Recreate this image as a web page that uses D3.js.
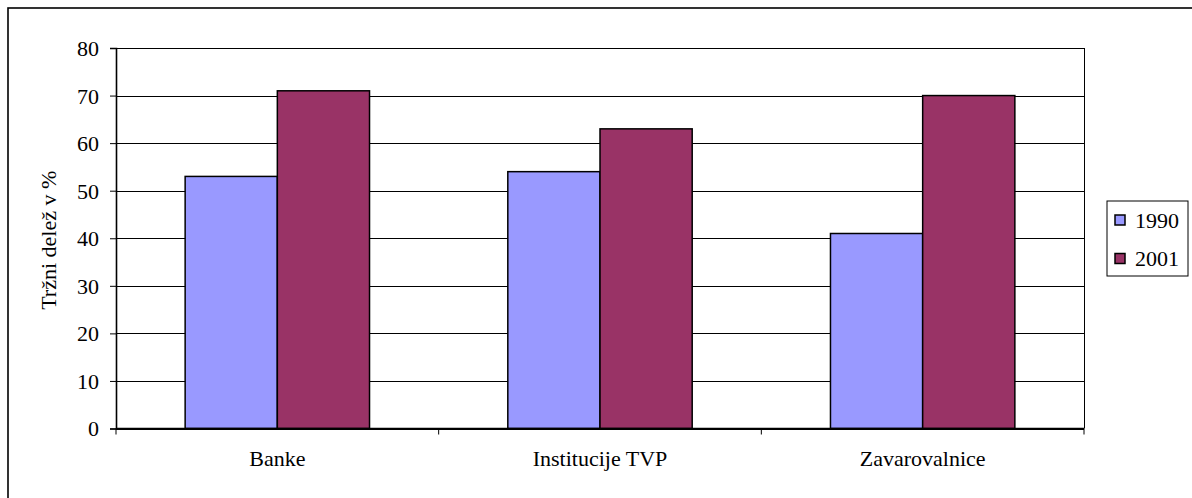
<!DOCTYPE html>
<html>
<head>
<meta charset="utf-8">
<script src="https://cdn.jsdelivr.net/npm/d3@7"></script>
<style>
html,body{margin:0;padding:0;background:#fff;}
svg{display:block;}
</style>
</head>
<body>
<svg id="chart" width="1192" height="498"></svg>
<script>
const categories = ["Banke", "Institucije TVP", "Zavarovalnice"];
const seriesNames = ["1990", "2001"];
const values1990 = [53, 54, 41];
const values2001 = [71, 63, 70];
const yTicks = [0, 10, 20, 30, 40, 50, 60, 70, 80];
const yTitle = "Tržni delež v %";
const colors = ["#9999FF", "#993366"];

(function () {
const seriesValues = [values1990, values2001];
const svg = d3.select("#chart");
const FONT = '"Liberation Serif"';
const FS = "22px";

// outer frame (extends beyond canvas on right / bottom)
svg.append("rect").attr("x", 8).attr("y", 8).attr("width", 1250).attr("height", 600)
  .attr("fill", "none").attr("stroke", "#000").attr("stroke-width", 1.6);

const pLeft = 116, pRight = 1084, pTop = 48, pBottom = 428.5;
const x = d3.scaleBand().domain(categories).range([pLeft, pRight]).paddingInner(0).paddingOuter(0);
const xs = d3.scaleBand().domain(seriesNames).range([0, x.bandwidth()]).paddingInner(0).paddingOuter(0.75);
const y = d3.scaleLinear().domain([0, 80]).range([pBottom, pTop]);

// gridlines
svg.append("g").selectAll("line").data(yTicks).join("line")
  .attr("x1", pLeft).attr("x2", pRight)
  .attr("y1", d => Math.round(y(d)) + 0.5).attr("y2", d => Math.round(y(d)) + 0.5)
  .attr("stroke", "#000").attr("stroke-width", 1);
// right plot edge
svg.append("line").attr("x1", pRight + 0.5).attr("x2", pRight + 0.5).attr("y1", pTop).attr("y2", pBottom)
  .attr("stroke", "#000").attr("stroke-width", 1);

// bars
const groups = svg.append("g").selectAll("g").data(seriesNames).join("g");
groups.each(function(s, si) {
  d3.select(this).selectAll("rect").data(categories).join("rect")
    .attr("x", c => x(c) + xs(s))
    .attr("width", xs.bandwidth())
    .attr("y", (c, ci) => y(seriesValues[si][ci]))
    .attr("height", (c, ci) => pBottom - y(seriesValues[si][ci]))
    .attr("fill", colors[si])
    .attr("stroke", "#000").attr("stroke-width", 1.5);
});

// y axis
const yAxis = d3.axisLeft(y).tickValues(yTicks).tickSize(6).tickPadding(11).tickFormat(d3.format("d"));
const gy = svg.append("g").attr("transform", `translate(${pLeft},0)`).call(yAxis);
gy.select(".domain").attr("stroke", "#000").attr("stroke-width", 1.6);
gy.selectAll(".tick line").attr("stroke", "#000").attr("stroke-width", 1);
gy.selectAll(".tick text").style("font-size", FS).style("font-family", FONT).attr("fill", "#000").attr("dy", "0.34em");

// x axis
const gx = svg.append("g").attr("transform", `translate(0,${pBottom})`);
gx.append("line").attr("x1", pLeft).attr("x2", pRight).attr("y1", 0).attr("y2", 0)
  .attr("stroke", "#000").attr("stroke-width", 1.6);
const boundaries = categories.map(c => x(c)).concat([pRight]);
gx.selectAll("line.tk").data(boundaries).join("line").attr("class", "tk")
  .attr("x1", d => d).attr("x2", d => d).attr("y1", 0).attr("y2", 6)
  .attr("stroke", "#000").attr("stroke-width", 1);
gx.selectAll("text").data(categories).join("text")
  .attr("x", c => x(c) + x.bandwidth() / 2)
  .attr("y", 37.5)
  .attr("text-anchor", "middle").style("font-size", FS).style("font-family", FONT)
  .text(c => c);

// y title
svg.append("text")
  .attr("transform", `translate(56,${(pTop + pBottom) / 2 + 2}) rotate(-90)`)
  .attr("text-anchor", "middle").style("font-size", FS).style("font-family", FONT)
  .text(yTitle);

// legend
const lg = svg.append("g").attr("transform", "translate(1107,201)");
lg.append("rect").attr("x", 0).attr("y", 0).attr("width", 81).attr("height", 75)
  .attr("fill", "#fff").attr("stroke", "#000").attr("stroke-width", 1);
const items = lg.selectAll("g").data(seriesNames).join("g")
  .attr("transform", (d, i) => `translate(0,${19 + i * 38.5})`);
items.append("rect").attr("x", 8).attr("y", -5).attr("width", 10).attr("height", 10)
  .attr("fill", (d, i) => colors[i]).attr("stroke", "#000").attr("stroke-width", 1.5);
items.append("text").attr("x", 28).attr("y", 7.5).style("font-size", FS).style("font-family", FONT).text(d => d);
})();
</script>
</body>
</html>
